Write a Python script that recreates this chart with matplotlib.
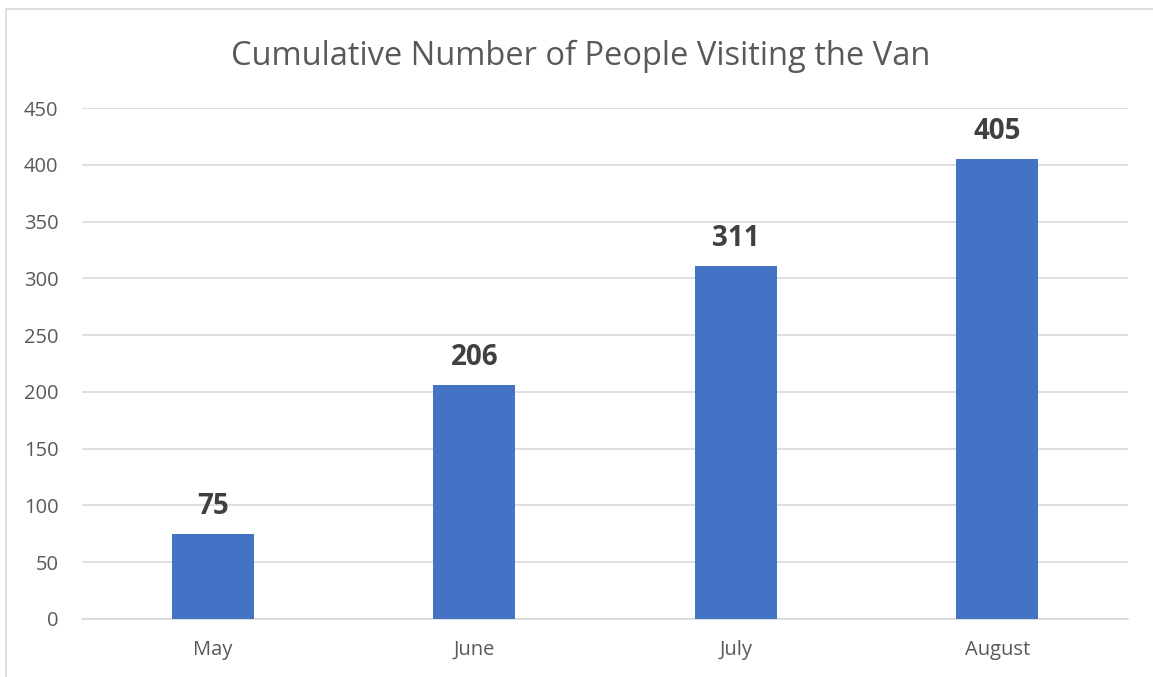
import matplotlib
matplotlib.use("Agg")
import matplotlib.pyplot as plt
from matplotlib.patches import Rectangle

categories = ["May", "June", "July", "August"]
values = [75, 206, 311, 405]
yticks = [0, 50, 100, 150, 200, 250, 300, 350, 400, 450]
title = "Cumulative Number of People Visiting the Van"

W, H = 1153, 677
fig = plt.figure(figsize=(W / 100, H / 100), dpi=100)
plt.rcParams['font.family'] = ['Open Sans', 'DejaVu Sans']

# chart border (visible on left and top)
fig.patches.append(Rectangle((6 / W, -0.1), 1.2, (H - 9) / H + 0.1, transform=fig.transFigure,
                             fill=False, edgecolor="#d9d9d9", linewidth=1.2))

ax = fig.add_axes([82 / W, (H - 619) / H, (1128 - 82) / W, (619 - 108) / H])
x = list(range(len(categories)))
bars = ax.bar(x, values, width=0.314, color="#4472c4", zorder=3)
ax.set_xlim(-0.5, len(categories) - 0.5)
ax.set_ylim(0, 450)
ax.set_yticks(yticks)
ax.set_yticklabels([str(t) for t in yticks], fontsize=14.5, color="#595959")
ax.set_xticks(x)
ax.set_xticklabels(categories, fontsize=14.5, color="#595959")
ax.tick_params(axis="both", length=0)
ax.tick_params(axis="y", pad=17)
ax.tick_params(axis="x", pad=15)
ax.grid(axis="y", color="#d9d9d9", linewidth=1.2, zorder=0)
for s in ["top", "right", "left"]:
    ax.spines[s].set_visible(False)
ax.spines["bottom"].set_color("#d9d9d9")
ax.spines["bottom"].set_linewidth(1.2)

for xi, v in zip(x, values):
    ax.annotate(str(v), (xi, v), xytext=(0, 14.5), textcoords="offset points",
                ha="center", va="baseline", fontsize=20, fontweight="bold", color="#404040")

fig.text(581 / W, 1 - 65 / H, title, ha="center", va="baseline", fontsize=23.5, color="#595959")

fig.savefig("out.png", dpi=100)
